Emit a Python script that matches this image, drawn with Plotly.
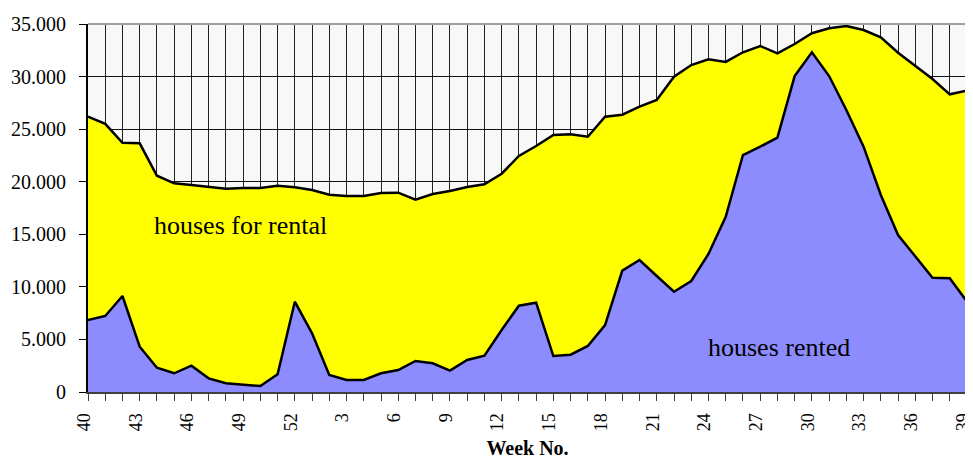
import plotly.graph_objects as go

weeks = [40, 41, 42, 43, 44, 45, 46, 47, 48, 49, 50, 51, 52] + list(range(1, 40))

houses_for_rental = [
    26200, 25500, 23700, 23650, 20570, 19850, 19690, 19530, 19340, 19400, 19400, 19620, 19470,
    19210, 18760, 18640, 18640, 18930, 18960, 18290, 18830, 19120, 19500, 19750, 20760, 22450,
    23400, 24440, 24510, 24280, 26180, 26370, 27140, 27770, 29990, 31100, 31640, 31390, 32310,
    32910, 32210, 33100, 34120, 34590, 34810, 34430, 33730, 32270, 31010, 29770, 28310, 28660,
]

houses_rented = [
    6850, 7230, 9130, 4310, 2310, 1780, 2500, 1300, 830, 670, 570, 1680, 8590,
    5580, 1620, 1140, 1140, 1780, 2090, 2950, 2730, 2030, 3040, 3450, 5900, 8210,
    8490, 3420, 3550, 4380, 6370, 11540, 12550, 11030, 9540, 10560, 13130, 16670, 22540,
    23330, 24190, 30050, 32310, 30050, 26820, 23330, 18740, 14930, 12870, 10870, 10810, 8600,
]

y_ticks = [0, 5000, 10000, 15000, 20000, 25000, 30000, 35000]

idx = list(range(len(weeks)))
tick_text = [str(w) if i % 3 == 0 else "" for i, w in enumerate(weeks)]

font_family = "Liberation Serif, Times New Roman, serif"

fig = go.Figure()
fig.add_trace(go.Scatter(
    x=idx, y=houses_for_rental, mode="lines", fill="tozeroy",
    fillcolor="#ffff00", line=dict(color="black", width=2.5),
    name="houses for rental", hoverinfo="x+y",
))
fig.add_trace(go.Scatter(
    x=idx, y=houses_rented, mode="lines", fill="tozeroy",
    fillcolor="#8c8cff", line=dict(color="black", width=2.5),
    name="houses rented", hoverinfo="x+y",
))
# right edge of the area
fig.add_trace(go.Scatter(
    x=[idx[-1], idx[-1]], y=[0, houses_for_rental[-1]], mode="lines",
    line=dict(color="black", width=2.5), hoverinfo="skip", showlegend=False,
))

fig.add_annotation(x=8.87, y=15800, text="houses for rental", showarrow=False,
                   font=dict(family=font_family, size=26, color="black"))
fig.add_annotation(x=40.1, y=4250, text="houses rented", showarrow=False,
                   font=dict(family=font_family, size=26, color="black"))

fig.add_shape(type="line", xref="paper", yref="paper", x0=0, x1=1, y0=1, y1=1,
              line=dict(color="#a0a0a0", width=2))

# page body has an 8px default margin; the figure is offset by 8px
fig.update_layout(
    width=973, height=451,
    margin=dict(l=80, r=14, t=16, b=67, autoexpand=False),
    paper_bgcolor="white", plot_bgcolor="#f8f8f8",
    showlegend=False,
    separators=",.",
    font=dict(family=font_family, color="black"),
    xaxis=dict(
        range=[0, len(weeks) - 1], automargin=False,
        tickmode="array", tickvals=idx, ticktext=tick_text,
        tickangle=-90, tickfont=dict(size=18, family=font_family),
        ticklabeloverflow="allow", ticklabelstandoff=5, ticklabelshift=-4,
        showgrid=True, gridcolor="#222222", gridwidth=1,
        ticks="outside", ticklen=7, tickcolor="#404040", tickwidth=1,
        showline=True, linecolor="#404040", linewidth=2,
        zeroline=False,
        title=dict(text="<b>Week No.</b>", font=dict(size=20, family=font_family), standoff=14),
    ),
    yaxis=dict(
        range=[0, 35000], automargin=False,
        tickmode="array", tickvals=y_ticks, tickformat=",d",
        tickfont=dict(size=20, family=font_family),
        ticklabelstandoff=9,
        showgrid=True, gridcolor="#111111", gridwidth=1,
        ticks="outside", ticklen=7, tickcolor="black", tickwidth=1,
        showline=True, linecolor="black", linewidth=2,
        zeroline=False,
    ),
)

fig.write_html("out.html")
